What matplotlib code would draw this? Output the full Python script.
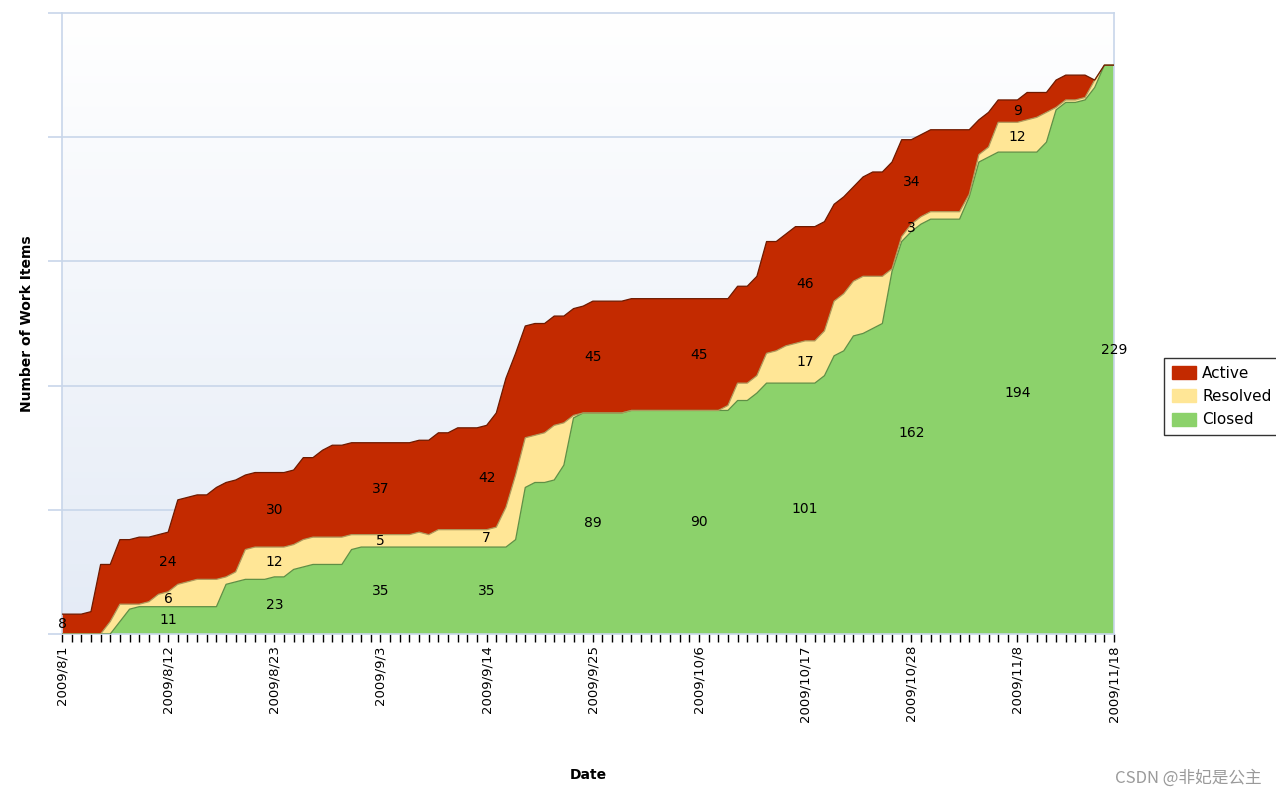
import numpy as np
import pandas as pd
import matplotlib
matplotlib.use("Agg")
import matplotlib.pyplot as plt
from matplotlib.patches import Patch

# daily cumulative-flow data, 2009/8/1 .. 2009/11/18 (110 days)
dates = pd.date_range("2009-08-01", "2009-11-18", freq="D")
closed = [0, 0, 0, 0, 0, 0, 5, 10, 11, 11,
          11, 11, 11, 11, 11, 11, 11, 20, 21, 22,
          22, 22, 23, 23, 26, 27, 28, 28, 28, 28,
          34, 35, 35, 35, 35, 35, 35, 35, 35, 35,
          35, 35, 35, 35, 35, 35, 35, 38, 59, 61,
          61, 62, 68, 87, 89, 89, 89, 89, 89, 90,
          90, 90, 90, 90, 90, 90, 90, 90, 90, 90,
          94, 94, 97, 101, 101, 101, 101, 101, 101, 104,
          112, 114, 120, 121, 123, 125, 146, 158, 162, 165,
          167, 167, 167, 167, 176, 190, 192, 194, 194, 194,
          194, 194, 198, 211, 214, 214, 215, 220, 229, 229]
resolved = [0, 0, 0, 0, 0, 5, 7, 2, 1, 2,
            5, 6, 9, 10, 11, 11, 11, 3, 4, 12,
            13, 13, 12, 12, 10, 11, 11, 11, 11, 11,
            6, 5, 5, 5, 5, 5, 5, 6, 5, 7,
            7, 7, 7, 7, 7, 8, 16, 26, 20, 19,
            20, 22, 17, 1, 0, 0, 0, 0, 0, 0,
            0, 0, 0, 0, 0, 0, 0, 0, 0, 2,
            7, 7, 7, 12, 13, 15, 16, 17, 17, 18,
            22, 23, 22, 23, 21, 19, 1, 2, 3, 3,
            3, 3, 3, 3, 1, 3, 4, 12, 12, 12,
            13, 14, 12, 1, 1, 1, 1, 3, 0, 0]
active = [8, 8, 8, 9, 28, 23, 26, 26, 27, 26,
          24, 24, 34, 34, 34, 34, 37, 38, 37, 30,
          30, 30, 30, 30, 30, 33, 32, 35, 37, 37,
          37, 37, 37, 37, 37, 37, 37, 37, 38, 39,
          39, 41, 41, 41, 42, 46, 52, 49, 45, 45,
          44, 44, 43, 43, 43, 45, 45, 45, 45, 45,
          45, 45, 45, 45, 45, 45, 45, 45, 45, 43,
          39, 39, 40, 45, 44, 45, 47, 46, 46, 44,
          39, 39, 38, 40, 42, 42, 43, 39, 34, 33,
          33, 33, 33, 33, 26, 14, 14, 9, 9, 9,
          11, 10, 8, 11, 10, 10, 9, 0, 0, 0]
label_days = [0, 11, 22, 33, 44, 55, 66, 77, 88, 99, 109]

series_names = ["Closed", "Resolved", "Active"]
fill_colors = ["#8cd26b", "#ffe696", "#c32a00"]
edge_colors = ["#5f8f45", "#b09a5c", "#6e1a00"]

days = np.arange(len(dates))
values = np.array([closed, resolved, active])
tops = np.cumsum(values, axis=0)

fig = plt.figure(figsize=(12.76, 8), dpi=100)
ax = fig.add_axes([62 / 1276, 1 - 634 / 800, (1114 - 62) / 1276, (634 - 13) / 800])

# soft vertical gradient in the plot area
grad = np.linspace(0, 1, 256).reshape(-1, 1)
cmap = matplotlib.colors.LinearSegmentedColormap.from_list("bg", ["#e4ebf6", "#ffffff"])
ax.imshow(grad, extent=[0, 109, 0, 250], origin="lower", aspect="auto",
          cmap=cmap, zorder=0)

for y in [50, 100, 150, 200]:
    ax.axhline(y, color="#c8d6ea", lw=1.2, zorder=1)

ax.stackplot(days, values, colors=fill_colors, zorder=2)
for i in range(3):
    ax.plot(days, tops[i], color=edge_colors[i], lw=0.9, zorder=3)

# value labels in the middle of each band
for d in label_days:
    bottom = 0
    for i in range(3):
        v = values[i][d]
        if v > 0:
            ax.text(d, bottom + v / 2, str(v), ha="center", va="center",
                    fontsize=10, color="black", zorder=4)
        bottom += v

ax.set_xlim(0, 109)
ax.set_ylim(0, 250)
ax.set_xticks(days)
ax.set_xticklabels(["%d/%d/%d" % (dt.year, dt.month, dt.day) if i in label_days else ""
                    for i, dt in enumerate(dates)], rotation=90, fontsize=9.5)
ax.tick_params(axis="x", length=6, width=1, color="black", pad=2)
ax.set_yticks([0, 50, 100, 150, 200, 250])
ax.set_yticklabels([])
ax.tick_params(axis="y", length=10, width=1.2, color="#c8d6ea")
for s in ax.spines.values():
    s.set_color("#c8d6ea")
    s.set_linewidth(1.2)

ax.set_ylabel("Number of Work Items", fontsize=10, fontweight="bold", labelpad=7)
fig.text(588 / 1276, 1 - 775 / 800, "Date", ha="center", va="center",
         fontsize=10, fontweight="bold")

handles = [Patch(facecolor=fill_colors[i], edgecolor=fill_colors[i]) for i in [2, 1, 0]]
labels = [series_names[i] for i in [2, 1, 0]]
leg = fig.legend(handles, labels, loc="upper left",
                 bbox_to_anchor=(1164 / 1276, 1 - 358 / 800), fontsize=11,
                 frameon=True, fancybox=False, borderpad=0.5, labelspacing=0.55,
                 handlelength=1.6, handleheight=0.9, handletextpad=0.4,
                 borderaxespad=0)
leg.get_frame().set_edgecolor("black")
leg.get_frame().set_linewidth(1)

fig.text(1262 / 1276, 1 - 778 / 800, "CSDN @非妃是公主", ha="right", va="center",
         fontsize=12, color="#9a9a9a", family=["Noto Sans CJK SC", "DejaVu Sans"])

fig.savefig("out.png", dpi=100)
